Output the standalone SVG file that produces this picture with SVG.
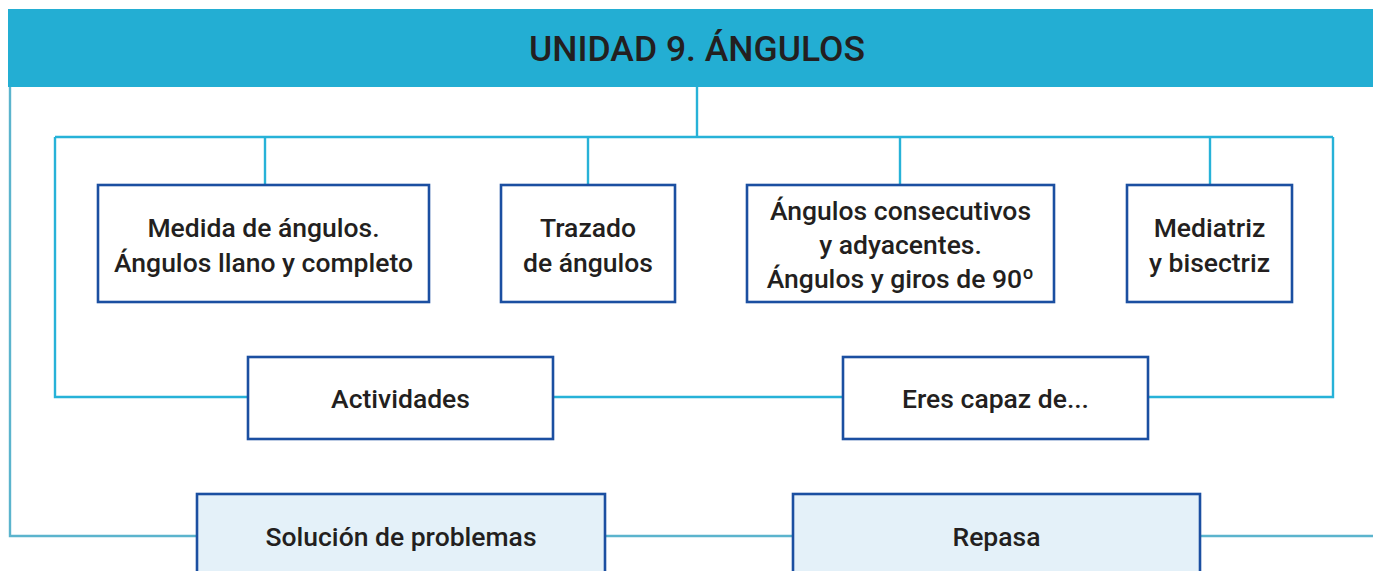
<svg xmlns="http://www.w3.org/2000/svg" width="1373" height="571" viewBox="0 0 1373 571">
<style>
.box{fill:#ffffff;stroke:#1b4fa1;stroke-width:2.6}
.box2{fill:#e4f1f9;stroke:#1b4fa1;stroke-width:2.6}
.c1{fill:none;stroke:#27b2d8;stroke-width:2.4}
.c2{fill:none;stroke:#5bb4cd;stroke-width:2.4}
text{font-family:Roboto,"Liberation Sans",Arial,sans-serif;font-weight:500;fill:#231f20;text-anchor:middle}
.t{font-size:26.5px}
.h{font-size:35.5px}
</style>
<rect width="1373" height="571" fill="#ffffff"/>
<g id="connectors">
<path class="c2" d="M10,87 V536 H197"/>
<path class="c1" d="M697,87 V137"/>
<path class="c1" d="M55,137 H1333"/>
<path class="c1" d="M55,137 V397 H248"/>
<path class="c1" d="M1333,137 V397 H1148"/>
<path class="c1" d="M265,137 V185"/>
<path class="c1" d="M588,137 V185"/>
<path class="c1" d="M900,137 V185"/>
<path class="c1" d="M1210,137 V185"/>
<path class="c1" d="M553,397 H843"/>
<path class="c2" d="M605,536 H793"/>
<path class="c2" d="M1200,536 H1373"/>
</g>
<g id="header">
<rect x="8" y="9" width="1365" height="78" fill="#23aed3"/>
<text class="h" x="697" y="61">UNIDAD 9. ÁNGULOS</text>
</g>
<g id="medida">
<rect class="box" x="98" y="185" width="331" height="117"/>
<text class="t" x="263.5" y="237">Medida de ángulos.</text>
<text class="t" x="263.5" y="272">Ángulos llano y completo</text>
</g>
<g id="trazado">
<rect class="box" x="501" y="185" width="174" height="117"/>
<text class="t" x="588" y="237">Trazado</text>
<text class="t" x="588" y="272">de ángulos</text>
</g>
<g id="consecutivos">
<rect class="box" x="747" y="185" width="307" height="117"/>
<text class="t" x="900.5" y="220">Ángulos consecutivos</text>
<text class="t" x="900.5" y="254">y adyacentes.</text>
<text class="t" x="900.5" y="288">Ángulos y giros de 90º</text>
</g>
<g id="mediatriz">
<rect class="box" x="1127" y="185" width="165" height="117"/>
<text class="t" x="1209.5" y="237">Mediatriz</text>
<text class="t" x="1209.5" y="272">y bisectriz</text>
</g>
<g id="actividades">
<rect class="box" x="248" y="357" width="305" height="82"/>
<text class="t" x="400.5" y="408">Actividades</text>
</g>
<g id="eres">
<rect class="box" x="843" y="357" width="305" height="82"/>
<text class="t" x="995.5" y="408">Eres capaz de...</text>
</g>
<g id="solucion">
<rect class="box2" x="197" y="494" width="408" height="90"/>
<text class="t" x="401" y="546">Solución de problemas</text>
</g>
<g id="repasa">
<rect class="box2" x="793" y="494" width="407" height="90"/>
<text class="t" x="996.5" y="546">Repasa</text>
</g>
</svg>
